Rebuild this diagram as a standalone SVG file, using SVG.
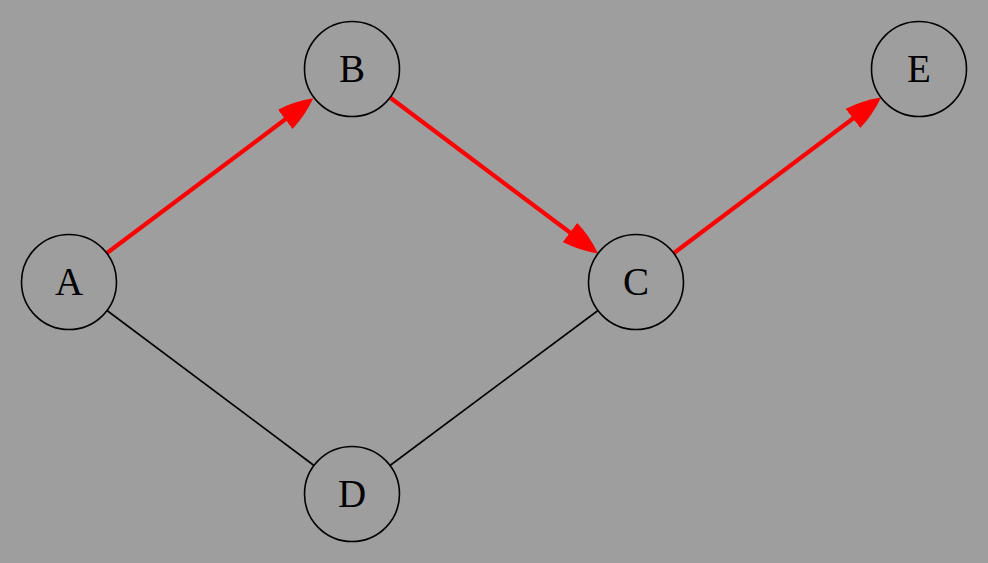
<svg xmlns="http://www.w3.org/2000/svg" width="988" height="563" viewBox="0 0 988 563">
<style>
.node circle{fill:none;stroke:#000;stroke-width:1.6}
.node text{font-family:"Liberation Serif","DejaVu Serif",serif;font-size:39px;text-anchor:middle;fill:#000}
.plain{stroke:#000;stroke-width:1.6;fill:none}
.hl{stroke:#ff0000;stroke-width:4.2;fill:none}
</style>
<defs>
<marker id="ah" markerUnits="userSpaceOnUse" markerWidth="40" markerHeight="28" refX="5" refY="12" orient="auto">
<path d="M35,12 Q18,3 0,0 L0,24 Q18,21 35,12 Z" fill="#ff0000"/>
</marker>
</defs>
<rect x="0" y="0" width="988" height="563" fill="#9e9e9e"/>
<g id="edges">
<line class="hl" x1="107" y1="253" x2="289.3" y2="116.3" marker-end="url(#ah)"/>
<line class="hl" x1="390" y1="97.5" x2="574" y2="235.5" marker-end="url(#ah)"/>
<line class="hl" x1="674" y1="253" x2="857" y2="115.5" marker-end="url(#ah)"/>
<line class="plain" x1="107" y1="310.5" x2="314" y2="465.5"/>
<line class="plain" x1="390" y1="465.5" x2="598" y2="310.5"/>
</g>
<g id="A" class="node"><circle cx="69" cy="282" r="47.5"/><text x="69" y="295">A</text></g>
<g id="B" class="node"><circle cx="352" cy="69" r="47.5"/><text x="352" y="82">B</text></g>
<g id="C" class="node"><circle cx="636" cy="282" r="47.5"/><text x="636" y="295">C</text></g>
<g id="D" class="node"><circle cx="352" cy="494" r="47.5"/><text x="352" y="507">D</text></g>
<g id="E" class="node"><circle cx="919" cy="69" r="47.5"/><text x="919" y="82">E</text></g>
</svg>
